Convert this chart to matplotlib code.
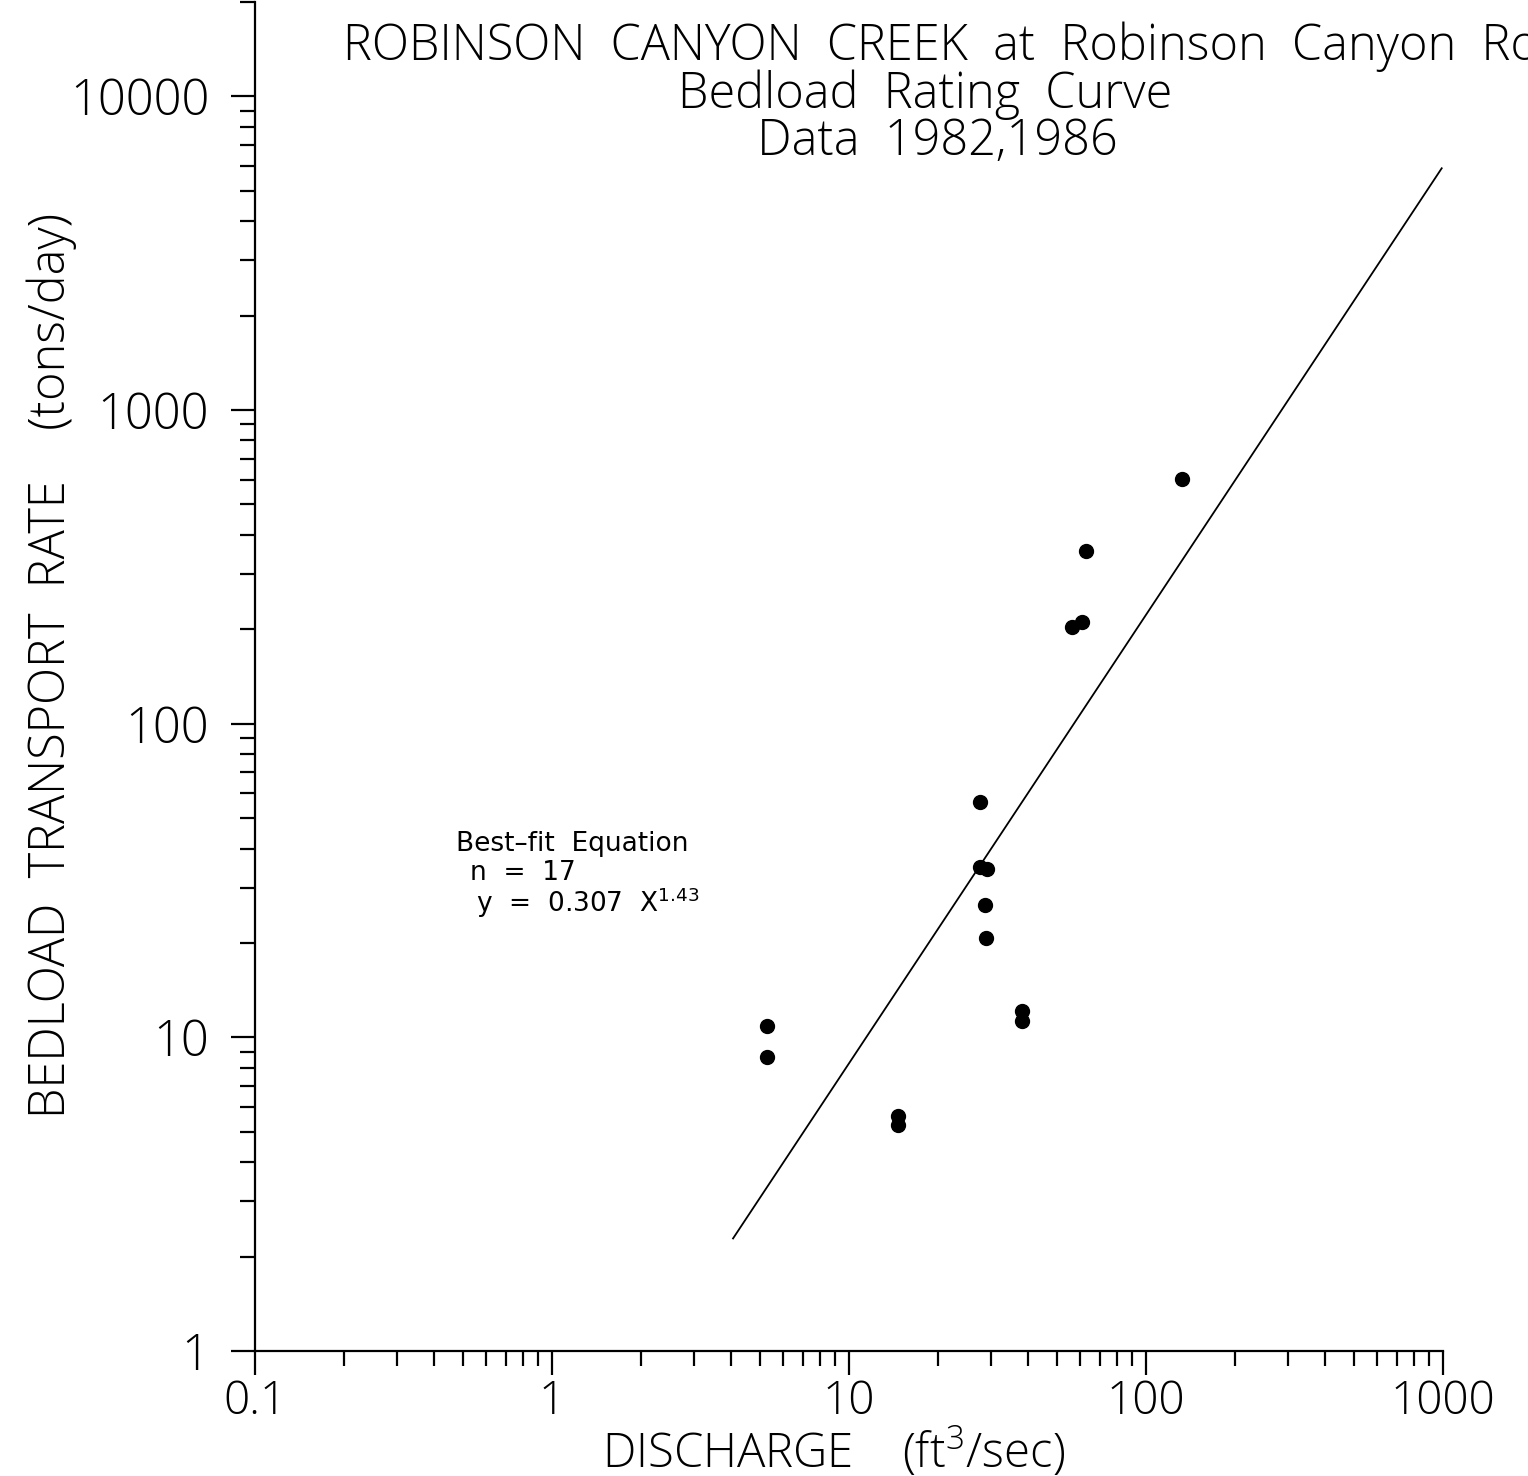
import matplotlib
matplotlib.use("Agg")
import matplotlib.pyplot as plt
import numpy as np
from matplotlib.ticker import LogLocator, NullFormatter, FixedLocator, FixedFormatter

# points
discharge = [5.3, 5.3, 14.6, 14.6, 27.7, 27.6, 29.2, 28.8, 28.9, 38.1, 38.1, 56.2, 60.8, 62.8, 132.5]
bedload = [10.9, 8.65, 5.6, 5.25, 56.3, 34.9, 34.4, 26.4, 20.7, 12.1, 11.3, 204, 211, 355, 604]

# best-fit power law shown on the chart
fit_coef = 0.307
fit_exp = 1.43
fit_n = 17
fit_xrange = [4.07, 990]

x_ticks = [0.1, 1, 10, 100, 1000]
x_labels = ['0.1', '1', '10', '100', '1000']
y_ticks = [1, 10, 100, 1000, 10000]
y_labels = ['1', '10', '100', '1000', '10000']

W, H = 1528, 1476
FONT = 'Open Sans'

def fx(px):
    return px / W

def fy(py):
    return 1 - py / H

fig = plt.figure(figsize=(W / 100, H / 100), dpi=100)
ax = fig.add_axes([fx(255), fy(1351), 1188 / W, 1349 / H])

ax.set_xscale('log')
ax.set_yscale('log')
ax.set_xlim(0.1, 1000)
ax.set_ylim(1, 20000)

ax.spines['top'].set_visible(False)
ax.spines['right'].set_visible(False)
for s in ['left', 'bottom']:
    ax.spines[s].set_linewidth(1.6)

ax.xaxis.set_major_locator(FixedLocator(x_ticks))
ax.xaxis.set_major_formatter(FixedFormatter(x_labels))
ax.yaxis.set_major_locator(FixedLocator(y_ticks))
ax.yaxis.set_major_formatter(FixedFormatter(y_labels))
ax.xaxis.set_minor_locator(LogLocator(base=10, subs=range(2, 10)))
ax.yaxis.set_minor_locator(LogLocator(base=10, subs=range(2, 10)))
ax.xaxis.set_minor_formatter(NullFormatter())
ax.yaxis.set_minor_formatter(NullFormatter())

ax.tick_params(which='major', direction='out', length=17, width=1.6, colors='black')
ax.tick_params(axis='x', which='major', pad=3, labelsize=33)
ax.tick_params(axis='y', which='major', pad=16, labelsize=35)
ax.tick_params(which='minor', direction='out', length=11, width=1.6)
for lab in ax.get_xticklabels() + ax.get_yticklabels():
    lab.set_fontfamily(FONT)
    lab.set_fontweight('light')

# data and fitted line
ax.plot(discharge, bedload, 'o', color='black', markersize=10, zorder=3)
xf = np.array(fit_xrange)
ax.plot(xf, fit_coef * xf ** fit_exp, color='black', lw=1.3)

# title block
tkw = dict(fontfamily=FONT, fontweight='light', fontsize=35, color='black')
fig.text(fx(343), fy(47), 'ROBINSON  CANYON  CREEK  at  Robinson  Canyon  Road',
         ha='left', va='center', **tkw)
fig.text(fx(925), fy(118), 'Bedload  Rating  Curve\n  Data  1982,1986',
         ha='center', va='center', multialignment='center', linespacing=0.92, **tkw)

# equation box
ekw = dict(fontfamily='DejaVu Sans', fontsize=19, color='black', ha='left', va='center')
fig.text(fx(456), fy(844), 'Best\u2013fit  Equation', **ekw)
fig.text(fx(470), fy(873), f'n  =  {fit_n}', **ekw)
fig.text(fx(476), fy(903), r'y  =  0.307  X$^{\mathregular{1.43}}$', **ekw)

# axis titles
fig.text(fx(834), fy(1452), r'DISCHARGE    (ft$^{\mathregular{3}}$/sec)',
         ha='center', va='center', **dict(tkw, fontsize=34))
fig.text(fx(52), fy(665), 'BEDLOAD  TRANSPORT  RATE    (tons/day)',
         ha='center', va='center', rotation=90, **tkw)

fig.savefig('out.png', dpi=100, facecolor='white')
